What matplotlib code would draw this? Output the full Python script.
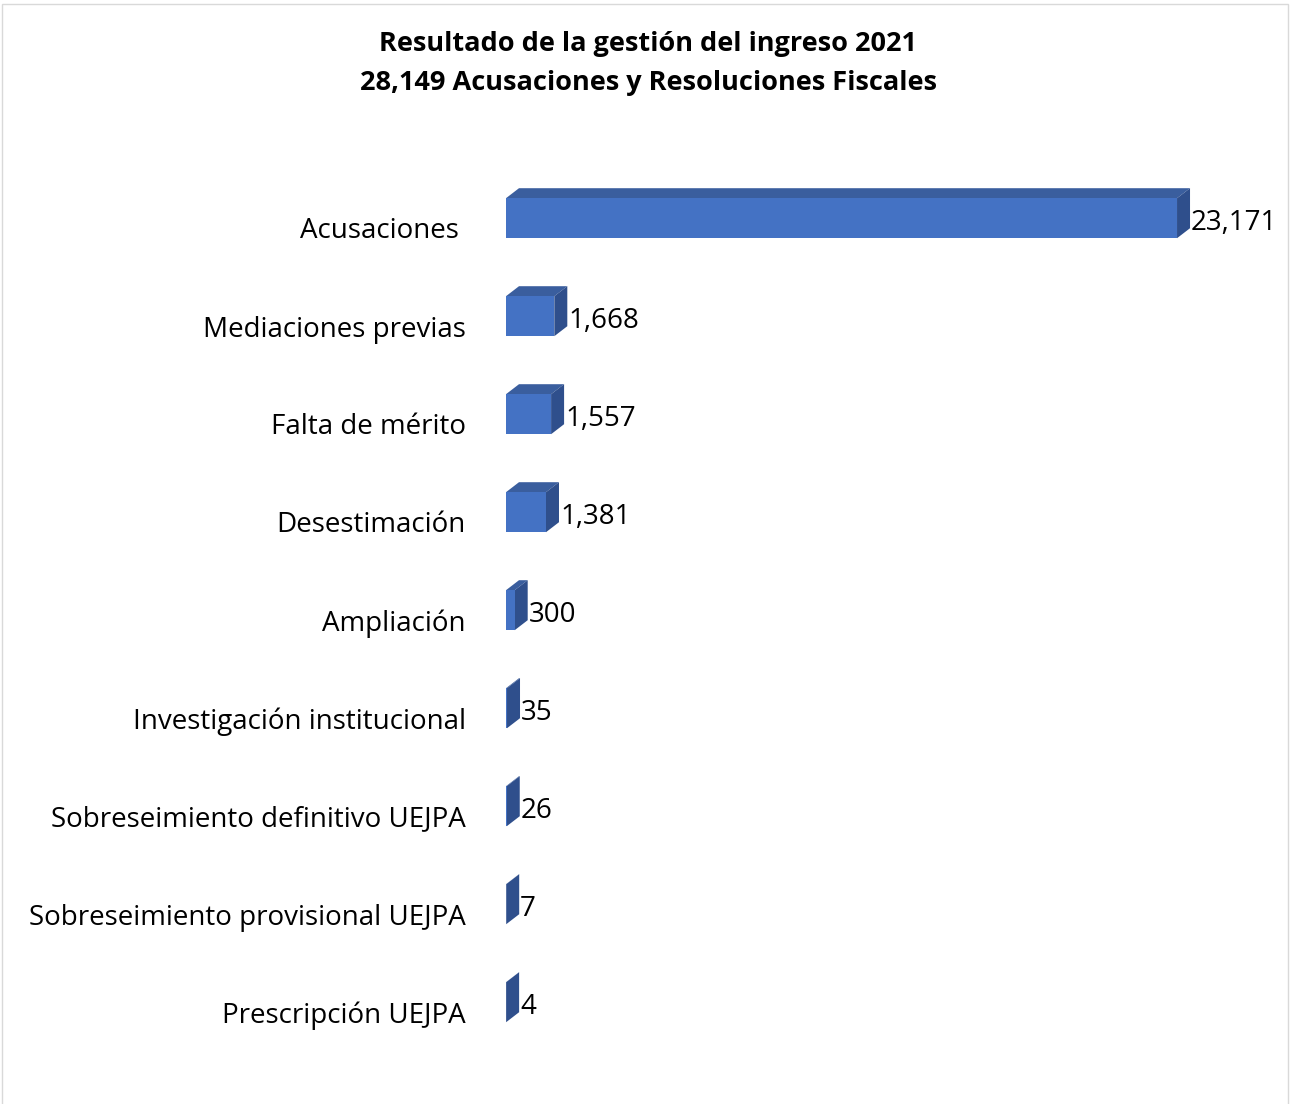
import matplotlib
matplotlib.use("Agg")
from matplotlib import pyplot as plt
from matplotlib.patches import Polygon, Rectangle

plt.rcParams['font.family'] = ['Open Sans', 'DejaVu Sans']

categories = ["Acusaciones ", "Mediaciones previas", "Falta de mérito", "Desestimación",
              "Ampliación", "Investigación institucional", "Sobreseimiento definitivo UEJPA",
              "Sobreseimiento provisional UEJPA", "Prescripción UEJPA"]
values = [23171, 1668, 1557, 1381, 300, 35, 26, 7, 4]
value_labels = ["23,171", "1,668", "1,557", "1,381", "300", "35", "26", "7", "4"]

W, H = 1290, 1104
fig = plt.figure(figsize=(W / 100, H / 100), dpi=100)

# axes placed so zero sits at px 506, rows every ~98 px
ax_left, ax_top, ax_bot = 506, 179, 1061
xmax = 27072
ax = fig.add_axes([ax_left / W, (H - ax_bot) / H, (W - ax_left) / W, (ax_bot - ax_top) / H])
ax.set_xlim(0, xmax)
ax.set_ylim(len(categories) - 0.5, -0.5)

px_x = xmax / (W - ax_left)          # value units per pixel
px_y = len(categories) / (ax_bot - ax_top)
dx, dy = 13 * px_x, 10 * px_y          # depth of the 3D look
bh = 40 * px_y

front_c, top_c, side_c = "#4472C4", "#3A5E9E", "#2F4F8C"

for i, v in enumerate(values):
    yc = i - 0.1
    y0, y1 = yc + bh / 2, yc - bh / 2   # bottom, top (inverted axis)
    ax.add_patch(Polygon([(0, y1), (dx, y1 - dy), (v + dx, y1 - dy), (v, y1)],
                         closed=True, facecolor=top_c, edgecolor="none"))
    ax.add_patch(Polygon([(v, y0), (v, y1), (v + dx, y1 - dy), (v + dx, y0 - dy)],
                         closed=True, facecolor=side_c, edgecolor="none"))
    ax.add_patch(Rectangle((0, y1), v, bh, facecolor=front_c, edgecolor="none"))
    ax.text(v + dx + 1 * px_x, i - 0.05, value_labels[i], ha="left", va="center",
            fontsize=20, color="black")

ax.set_yticks(range(len(categories)))
ax.set_yticklabels(categories, fontsize=20)
ax.tick_params(axis="y", length=0, pad=29)
ax.set_xticks([])
for s in ax.spines.values():
    s.set_visible(False)
ax.patch.set_alpha(0)

fig.text(648 / W, 1 - 44 / H, "Resultado de la gestión del ingreso 2021",
         ha="center", va="center", fontsize=19.5, fontweight="bold")
fig.text(648 / W, 1 - 83 / H, "28,149 Acusaciones y Resoluciones Fiscales",
         ha="center", va="center", fontsize=19.5, fontweight="bold")

fig.add_artist(Rectangle((2 / W, -0.01), 1286 / W, 1 - 4 / H + 0.01, transform=fig.transFigure,
                         fill=False, edgecolor="#D9D9D9", linewidth=1))

fig.savefig("out.png", dpi=100)
